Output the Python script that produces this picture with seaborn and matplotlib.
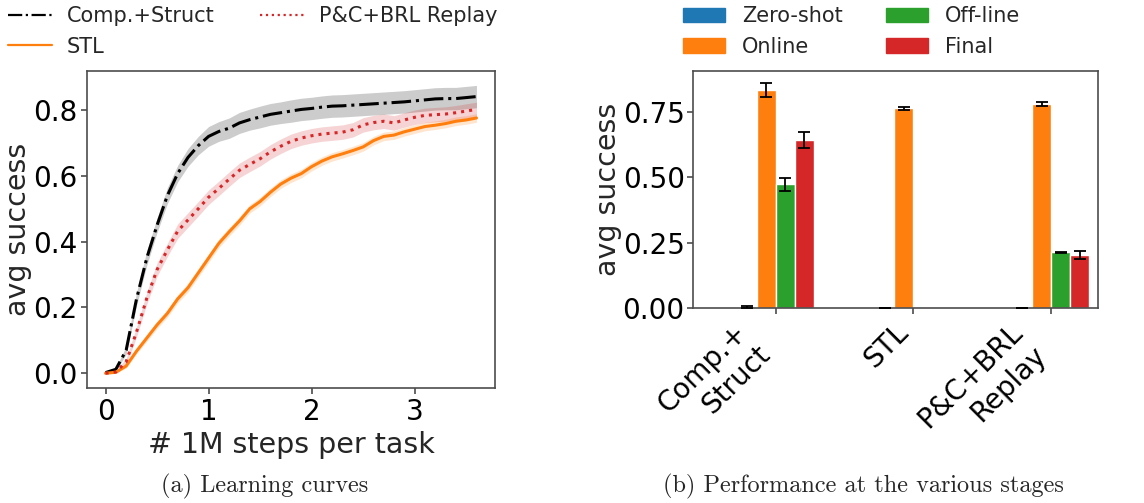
import numpy as np
import pandas as pd
import matplotlib
matplotlib.use("Agg")
import matplotlib.pyplot as plt
import seaborn as sns
from matplotlib.patches import Patch
from matplotlib.lines import Line2D

# ---------------- data: learning curves ----------------
steps = [0.0, 0.1, 0.2, 0.3, 0.4, 0.5, 0.6, 0.7, 0.8, 0.9, 1.0, 1.1, 1.2, 1.3, 1.4,
         1.5, 1.6, 1.7, 1.8, 1.9, 2.0, 2.1, 2.2, 2.3, 2.4, 2.5, 2.6, 2.7, 2.8, 2.9,
         3.0, 3.1, 3.2, 3.3, 3.4, 3.5, 3.6]
comp_struct = [0.002, 0.012, 0.07, 0.225, 0.35, 0.45, 0.54, 0.607, 0.656, 0.692,
               0.72, 0.735, 0.745, 0.761, 0.771, 0.779, 0.787, 0.792, 0.797, 0.802,
               0.805, 0.809, 0.812, 0.813, 0.815, 0.817, 0.819, 0.821, 0.823, 0.825,
               0.828, 0.831, 0.834, 0.835, 0.835, 0.838, 0.841]
comp_struct_err = [0.002, 0.005, 0.012, 0.02, 0.022, 0.022, 0.024, 0.025, 0.027, 0.028,
                   0.03, 0.03, 0.031, 0.032, 0.032, 0.033, 0.033, 0.033, 0.034, 0.034,
                   0.034, 0.034, 0.034, 0.034, 0.034, 0.034, 0.034, 0.034, 0.034, 0.034,
                   0.034, 0.034, 0.034, 0.034, 0.034, 0.034, 0.034]
stl = [0.0, 0.003, 0.022, 0.067, 0.107, 0.147, 0.182, 0.226, 0.26, 0.305,
       0.35, 0.395, 0.43, 0.463, 0.50, 0.522, 0.55, 0.575, 0.593, 0.607,
       0.628, 0.645, 0.658, 0.667, 0.677, 0.688, 0.707, 0.72, 0.724, 0.734,
       0.742, 0.75, 0.754, 0.759, 0.766, 0.77, 0.776]
stl_err = [0.001, 0.003, 0.006, 0.008, 0.01, 0.011, 0.012, 0.012, 0.013, 0.013,
           0.013, 0.013, 0.013, 0.013, 0.013, 0.013, 0.013, 0.013, 0.013, 0.013,
           0.013, 0.013, 0.013, 0.013, 0.013, 0.013, 0.013, 0.013, 0.013, 0.013,
           0.013, 0.013, 0.013, 0.013, 0.013, 0.013, 0.013]
pc_replay = [0.0, 0.004, 0.035, 0.125, 0.228, 0.315, 0.375, 0.432, 0.466, 0.50,
             0.535, 0.562, 0.59, 0.617, 0.635, 0.652, 0.673, 0.69, 0.705, 0.715,
             0.722, 0.727, 0.73, 0.733, 0.74, 0.755, 0.762, 0.766, 0.761, 0.77,
             0.778, 0.784, 0.786, 0.788, 0.792, 0.797, 0.802]
pc_replay_err = [0.001, 0.004, 0.01, 0.015, 0.018, 0.02, 0.02, 0.022, 0.022, 0.022,
                 0.022, 0.022, 0.022, 0.022, 0.022, 0.022, 0.022, 0.022, 0.022, 0.022,
                 0.022, 0.022, 0.022, 0.022, 0.022, 0.022, 0.022, 0.022, 0.022, 0.022,
                 0.022, 0.022, 0.022, 0.022, 0.022, 0.022, 0.022]

# ---------------- data: stage performance ----------------
methods = ["Comp.+\nStruct", "STL", "P&C+BRL\nReplay"]
stages = ["Zero-shot", "Online", "Off-line", "Final"]
zero_shot = [0.004, 0.001, 0.001]
zero_shot_err = [0.003, 0.0005, 0.0005]
online = [0.832, 0.763, 0.779]
online_err = [0.028, 0.006, 0.008]
offline = [0.472, 0.0, 0.212]
offline_err = [0.025, 0.0, 0.002]
final = [0.641, 0.0, 0.202]
final_err = [0.03, 0.0, 0.015]

# ---------------- style ----------------
sns.set_style("ticks")
plt.rcParams["font.family"] = ["DejaVu Sans"]
plt.rcParams["axes.edgecolor"] = "0.3"
plt.rcParams["xtick.color"] = "0.3"
plt.rcParams["ytick.color"] = "0.3"
plt.rcParams["xtick.labelcolor"] = "black"
plt.rcParams["ytick.labelcolor"] = "black"

fig = plt.figure(figsize=(11.44, 5.03), dpi=100)
ax1 = fig.add_axes([87 / 1144, 1 - 388 / 503, 408 / 1144, 317 / 503])
ax2 = fig.add_axes([693 / 1144, 1 - 308 / 503, 405 / 1144, 237 / 503])

# ---- left: learning curves ----
curves = [
    ("Comp.+Struct", comp_struct, comp_struct_err, "black", "-."),
    ("STL", stl, stl_err, "tab:orange", "-"),
    ("P&C+BRL Replay", pc_replay, pc_replay_err, "tab:red", ":"),
]
x = np.array(steps)
for name, mean, err, col, ls in curves:
    m = np.array(mean)
    e = np.array(err)
    ax1.fill_between(x, m - e, m + e, color=col, alpha=0.2, linewidth=0)
for name, mean, err, col, ls in curves:
    df = pd.DataFrame({"steps": steps, "success": mean})
    sns.lineplot(data=df, x="steps", y="success", ax=ax1, color=col,
                 linestyle=ls, linewidth=2.2, label=name, legend=False)

ax1.set_xticks([0, 1, 2, 3])
ax1.set_yticks([0.0, 0.2, 0.4, 0.6, 0.8])
ax1.tick_params(labelsize=20, length=4, width=1.2, pad=3)
ax1.set_xlabel("# 1M steps per task", fontsize=20.5, labelpad=4)
ax1.set_ylabel("avg success", fontsize=20.5)
ax1.yaxis.set_label_coords(-0.135, 0.5)
for s in ax1.spines.values():
    s.set_linewidth(1.2)

h1 = [Line2D([], [], color="black", linestyle="-.", linewidth=1.6),
      Line2D([], [], color="tab:orange", linestyle="-", linewidth=1.6),
      Line2D([], [], color="tab:red", linestyle=":", linewidth=1.6)]
fig.legend(h1, ["Comp.+Struct", "STL", "P&C+BRL Replay"], ncol=2,
           loc="upper left", bbox_to_anchor=(-0.009, 1.025), frameon=False,
           fontsize=15, handlelength=2.1, columnspacing=2.2, labelspacing=0.5,
           handletextpad=0.7)

# ---- right: stage bar chart ----
bar_df = pd.DataFrame({
    "method": methods * 4,
    "stage": [s for s in stages for _ in methods],
    "value": zero_shot + online + offline + final,
})
errs = zero_shot_err + online_err + offline_err + final_err
palette = ["tab:blue", "tab:orange", "tab:green", "tab:red"]
sns.barplot(data=bar_df, x="method", y="value", hue="stage", hue_order=stages,
            order=methods, palette=palette, width=0.555, errorbar=None,
            saturation=1.0, ax=ax2, legend=False)
bars = [p for p in ax2.patches]
for p, v, e in zip(bars, bar_df["value"], errs):
    cx = p.get_x() + p.get_width() / 2
    if e > 0:
        ax2.errorbar(cx, v, yerr=e, color="black", capsize=4.5, elinewidth=1.3,
                     capthick=1.3, linestyle="none", zorder=5)

ax2.set_xlim(-0.6, 2.34)
ax2.set_ylim(0, 0.905)
ax2.set_yticks([0.0, 0.25, 0.5, 0.75])
ax2.set_yticklabels(["0.00", "0.25", "0.50", "0.75"])
ax2.set_xlabel("")
ax2.set_ylabel("avg success", fontsize=20.5)
ax2.yaxis.set_label_coords(-0.175, 0.5)
ax2.tick_params(axis="y", labelsize=20, length=4, width=1.2, pad=2)
ax2.tick_params(axis="x", labelsize=20, length=4, width=1.2, pad=3)
for lab in ax2.get_xticklabels():
    lab.set_rotation(45)
    lab.set_ha("right")
for s in ax2.spines.values():
    s.set_linewidth(1.2)

h2 = [Patch(color=c) for c in palette]
fig.legend(h2, stages, ncol=2, loc="upper left", bbox_to_anchor=(0.581, 1.025),
           frameon=False, fontsize=15, handlelength=2.0, columnspacing=2.1,
           labelspacing=0.5, handletextpad=0.8)

# ---- captions ----
fig.text(265 / 1144, 1 - 486 / 503, "(a) Learning curves", family="cmr10",
         fontsize=17.5, ha="center", va="center")
fig.text(863 / 1144, 1 - 486 / 503, "(b) Performance at the various stages",
         family="cmr10", fontsize=17.5, ha="center", va="center")

fig.savefig("out.png", dpi=100)
